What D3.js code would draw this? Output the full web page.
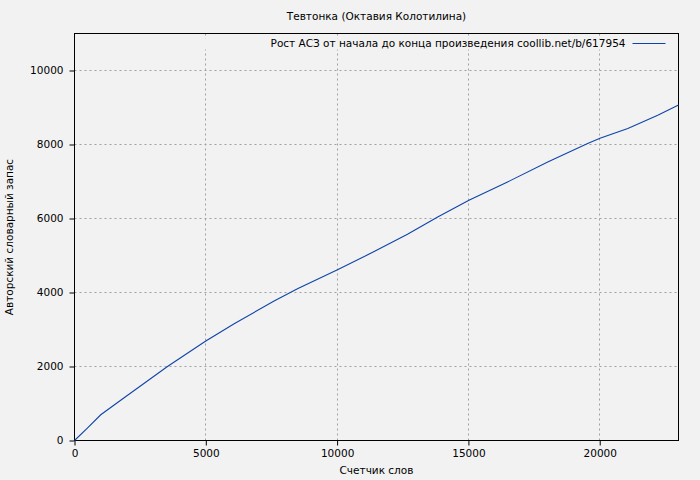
<!DOCTYPE html>
<html>
<head>
<meta charset="utf-8">
<script src="https://cdn.jsdelivr.net/npm/d3@7"></script>
<style>
    body { margin: 0; background: #f2f2f2; }
    text { font-family: "DejaVu Sans", sans-serif; fill: #000; }
</style>
</head>
<body>
<div id="graph"></div>
<script>
/*
    Data: word counter vs author's vocabulary
*/
var words = [0, 490, 1000, 1890, 3540, 5000, 6080, 7600, 8490, 10015, 11410,
             12680, 13830, 15020, 16490, 18020, 19540, 20010, 21070, 22210, 23000]
var vocab = [0, 333, 695, 1155, 2000, 2687, 3156, 3768, 4100, 4617, 5105,
             5572, 6040, 6492, 6987, 7528, 8025, 8169, 8431, 8791, 9070]

var xTicks = [0, 5000, 10000, 15000, 20000],
    yTicks = [0, 2000, 4000, 6000, 8000, 10000]

var title = "Тевтонка (Октавия Колотилина)",
    xLabel = "Счетчик слов",
    yLabel = "Авторский словарный запас",
    keyLabel = "Рост АСЗ от начала до конца произведения coollib.net/b/617954"

/*
    Dimensions
*/
var W = 700, H = 480
var margin = {top: 33.5, right: 21.5, bottom: 39.5, left: 74.5},
    width = W - margin.left - margin.right,
    height = H - margin.top - margin.bottom

var fontSize = "10.5px"

var svg = d3.select("#graph").append("svg")
    .attr("width", W)
    .attr("height", H)

svg.append("rect")
    .attr("width", W).attr("height", H)
    .attr("fill", "#f2f2f2")

var g = svg.append("g")
    .attr("transform", "translate(" + margin.left + "," + margin.top + ")")

var x = d3.scaleLinear().domain([0, 23000]).range([0, width]),
    y = d3.scaleLinear().domain([0, 11000]).range([height, 0])

// Grid
g.selectAll(".vgrid")
    .data(xTicks.filter(function(d) { return d > 0 }))
    .enter().append("line")
    .attr("x1", function(d) { return Math.round(x(d)) })
    .attr("x2", function(d) { return Math.round(x(d)) })
    .attr("y1", 0).attr("y2", height)
    .attr("stroke", "#a0a0a0")
    .attr("stroke-dasharray", "2,3")

g.selectAll(".hgrid")
    .data(yTicks.filter(function(d) { return d > 0 }))
    .enter().append("line")
    .attr("y1", function(d) { return Math.round(y(d)) })
    .attr("y2", function(d) { return Math.round(y(d)) })
    .attr("x1", 0).attr("x2", width)
    .attr("stroke", "#a0a0a0")
    .attr("stroke-dasharray", "2,3")

// key background blanks the grid behind it
g.append("rect")
    .attr("x", 1).attr("y", 5)
    .attr("width", width - 2).attr("height", 11)
    .attr("fill", "#f2f2f2")

// Axes
var xAxis = g.append("g")
    .attr("transform", "translate(0," + height + ")")
    .call(d3.axisBottom(x).tickValues(xTicks).tickSize(5).tickPadding(4).tickFormat(d3.format("d")))
var yAxis = g.append("g")
    .call(d3.axisLeft(y).tickValues(yTicks).tickSize(5).tickPadding(6).tickFormat(d3.format("d")))

;[xAxis, yAxis].forEach(function(a) {
    a.select(".domain").remove()
    a.selectAll("line").attr("stroke", "#000")
    a.selectAll("text").style("font-size", fontSize).attr("fill", "#000")
})

// Border
g.append("rect")
    .attr("width", width).attr("height", height)
    .attr("fill", "none")
    .attr("stroke", "#000")

// Line
var line = d3.line()
    .x(function(d, i) { return x(words[i]) })
    .y(function(d) { return y(d) })

g.append("path")
    .attr("d", line(vocab))
    .attr("fill", "none")
    .attr("stroke", "#0f44a8")
    .attr("stroke-width", 1.1)

// Key
g.append("text")
    .attr("x", width - 53)
    .attr("y", 10)
    .attr("dy", "0.35em")
    .attr("text-anchor", "end")
    .style("font-size", fontSize)
    .text(keyLabel)
g.append("line")
    .attr("x1", width - 46).attr("x2", width - 13)
    .attr("y1", 10).attr("y2", 10)
    .attr("stroke", "#0f44a8")

// Labels
svg.append("text")
    .attr("x", margin.left + width / 2)
    .attr("y", 16)
    .attr("dy", "0.35em")
    .attr("text-anchor", "middle")
    .style("font-size", fontSize)
    .text(title)

svg.append("text")
    .attr("x", margin.left + width / 2)
    .attr("y", 470)
    .attr("dy", "0.35em")
    .attr("text-anchor", "middle")
    .style("font-size", fontSize)
    .text(xLabel)

svg.append("text")
    .attr("transform", "translate(9," + (margin.top + height / 2) + ") rotate(-90)")
    .attr("dy", "0.35em")
    .attr("text-anchor", "middle")
    .style("font-size", fontSize)
    .text(yLabel)
</script>
</body>
</html>
